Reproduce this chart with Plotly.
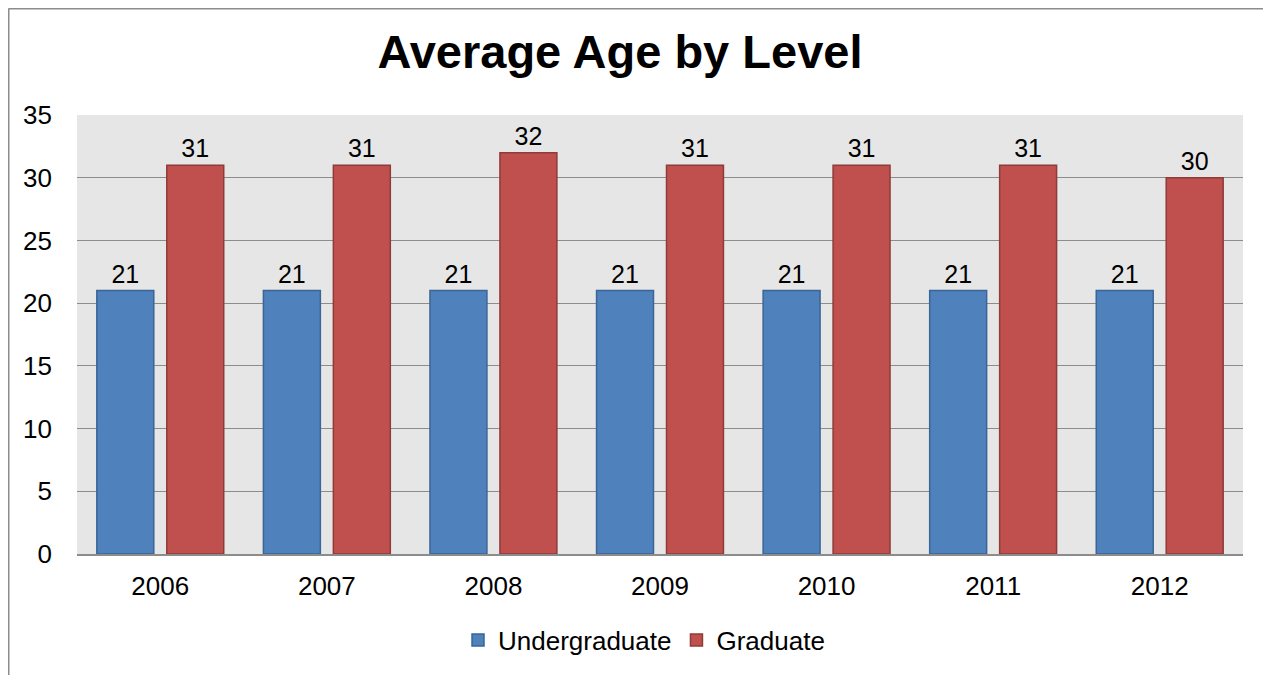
import plotly.graph_objects as go

years = ["2006", "2007", "2008", "2009", "2010", "2011", "2012"]
undergrad = [21, 21, 21, 21, 21, 21, 21]
graduate = [31, 31, 32, 31, 31, 31, 30]

FONT = "Liberation Sans, Arial, sans-serif"

fig = go.Figure()
fig.add_trace(go.Bar(
    x=years, y=undergrad, name="Undergraduate",
    marker=dict(color="#4F81BD", line=dict(color="#3A6596", width=1.5)),
    text=undergrad, textposition="outside",
    textfont=dict(size=25, color="black", family=FONT), cliponaxis=False,
))
fig.add_trace(go.Bar(
    x=years, y=graduate, name="Graduate",
    marker=dict(color="#C0504D", line=dict(color="#8E3B39", width=1.5)),
    text=graduate, textposition="outside",
    textfont=dict(size=25, color="black", family=FONT), cliponaxis=False,
))

# page body has an 8px margin: work in figure coordinates (screen - 8)
W, H = 1271, 675
L, R, T, B = 69, 36, 107, 129
pw, ph = W - L - R, H - T - B

def px_x(x):
    return (x - L) / pw

def px_y(y):
    return (H - B - y) / ph

fig.update_layout(
    width=W, height=H,
    margin=dict(l=L, r=R, t=T, b=B),
    paper_bgcolor="white",
    plot_bgcolor="#E6E6E6",
    font=dict(family=FONT, size=26, color="black"),
    barmode="group",
    bargap=0.16,
    bargroupgap=0.186,
    title=dict(text="<b>Average Age by Level</b>", x=612 / W, xanchor="center",
               y=1 - 44 / H, yanchor="middle",
               font=dict(size=47, family=FONT, color="black")),
    showlegend=True,
    legend=dict(orientation="h", x=px_x(636), xanchor="center", y=px_y(632), yanchor="middle",
                font=dict(size=26, family=FONT), itemwidth=30, traceorder="normal"),
    xaxis=dict(showgrid=False, showline=True, linecolor="#8C8C8C", linewidth=1.5,
               ticks="", ticklabelstandoff=8, tickfont=dict(size=26)),
    yaxis=dict(range=[0, 35], dtick=5, showgrid=True, gridcolor="#8C8C8C", gridwidth=1.2,
               zeroline=False, showline=False, ticks="", ticklabelstandoff=24,
               tickfont=dict(size=26)),
    shapes=[
        dict(type="line", xref="paper", yref="paper", x0=px_x(0.5), x1=px_x(0.5),
             y0=px_y(700), y1=px_y(0.5), line=dict(color="#8C8C8C", width=2)),
        dict(type="line", xref="paper", yref="paper", x0=px_x(0.5), x1=px_x(1300),
             y0=px_y(0.5), y1=px_y(0.5), line=dict(color="#8C8C8C", width=2)),
    ],
)

fig.write_html("out.html")
